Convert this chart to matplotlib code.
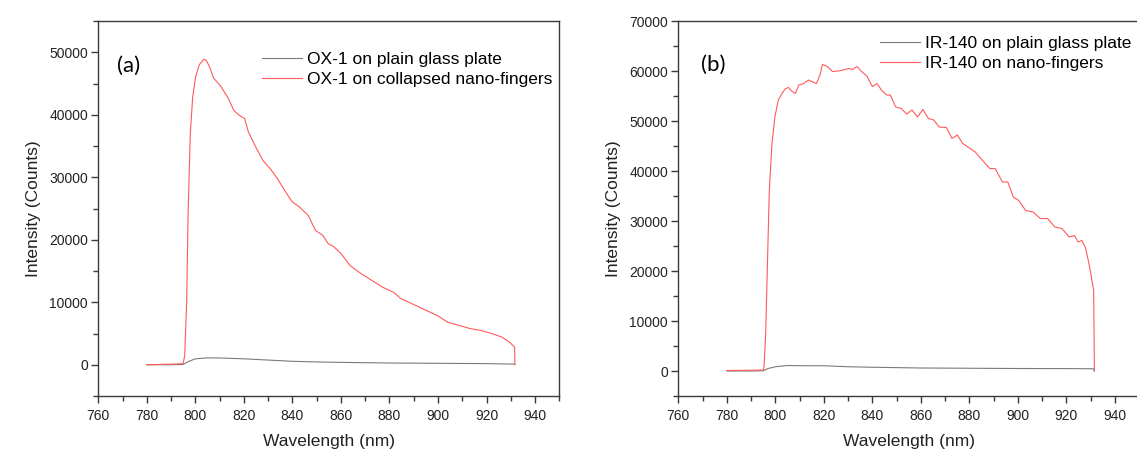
import matplotlib
matplotlib.use("Agg")
import matplotlib.pyplot as plt
from matplotlib.ticker import MultipleLocator
import numpy as np

plt.rcParams['font.family'] = ['Liberation Sans', 'DejaVu Sans']

# (a) OX-1 spectra
wl_a_red = [780, 785, 790, 794, 795, 795.6, 796.4, 797.0, 797.9, 798.9, 800.1, 801.6,
            803.5, 804.6, 806.1, 807.6, 808.6, 810.6, 813.6, 815.8, 818.1, 820.3,
            821.8, 824.8, 827.8, 830.8, 833.8, 836.8, 839.8, 842.7, 846.5, 849.5,
            852.5, 854.7, 857.0, 860.0, 863.7, 868.2, 872.7, 877.2, 881.7, 884.6,
            889.1, 895.1, 899.6, 904.1, 908.6, 913.1, 917.6, 922.1, 926.5, 929.5,
            931.6, 931.7]
int_a_red = [0, 50, 100, 150, 250, 1500, 10000, 24200, 37000, 42900, 46100, 48000,
             48900, 48650, 47400, 45800, 45400, 44500, 42600, 40700, 39900, 39400,
             37300, 34900, 32700, 31400, 29800, 27900, 26100, 25300, 23900, 21500,
             20700, 19400, 18900, 17800, 15900, 14600, 13500, 12400, 11600, 10600,
             9800, 8700, 7900, 6800, 6300, 5800, 5500, 5000, 4400, 3600,
             2800, 0]
wl_a_gray = [780, 790, 795, 797, 800, 805, 810, 820, 830, 840, 850, 860, 880, 900, 920, 931.7]
int_a_gray = [0, 0, 50, 500, 950, 1100, 1080, 950, 750, 550, 450, 380, 280, 230, 180, 100]

# (b) IR-140 spectra
wl_b_red = [780, 785, 790, 795, 795.3, 796.0, 796.8, 797.5, 798.6, 799.8, 801.2, 802.7,
            804.2, 805.4, 806.7, 808.2, 809.7, 811.7, 813.6, 815.4, 816.9, 818.4,
            819.4, 821.4, 823.6, 825.8, 828.0, 830.3, 831.8, 833.7, 835.5, 837.7,
            840.0, 841.9, 843.7, 845.9, 847.4, 849.6, 851.9, 854.1, 856.3, 858.6,
            860.8, 863.1, 865.3, 867.5, 870.5, 872.8, 875.0, 877.2, 879.4, 882.4,
            885.4, 888.4, 890.6, 893.6, 895.8, 898.1, 900.3, 903.2, 906.2, 909.2,
            912.2, 915.2, 918.1, 921.1, 923.3, 924.8, 926.3, 927.8, 929.3, 930.5,
            931.2, 931.5]
int_b_red = [100, 120, 150, 200, 700, 7400, 22800, 36100, 45500, 50800, 54200, 55500,
             56500, 56700, 56000, 55500, 57200, 57500, 58200, 57800, 57500, 59200,
             61300, 60900, 59900, 60000, 60200, 60500, 60300, 60900, 59900, 59000,
             56900, 57500, 56200, 55200, 55200, 52800, 52500, 51400, 52200, 50800,
             52300, 50500, 50200, 48800, 48700, 46500, 47200, 45500, 44800, 43800,
             42100, 40500, 40500, 37800, 37800, 34800, 34100, 32100, 31800, 30500,
             30500, 28800, 28500, 26800, 27100, 25800, 26100, 24700, 21400, 18100,
             16100, 0]
wl_b_gray = [780, 790, 795, 797, 800, 805, 812, 820, 830, 840, 860, 880, 900, 920, 931, 931.5]
int_b_gray = [0, 0, 50, 500, 850, 1100, 1050, 1050, 850, 750, 600, 550, 500, 480, 450, 0]

labels_a = ['OX-1 on plain glass plate', 'OX-1 on collapsed nano-fingers']
labels_b = ['IR-140 on plain glass plate', 'IR-140 on nano-fingers']

gray = '#7a7a7a'
red = '#ff5a5a'
spine_c = '#3a3a3a'

fig = plt.figure(figsize=(11.37, 4.5), dpi=100)
ax1 = fig.add_axes([0.0865, 0.12, 0.4054, 0.8333])
ax2 = fig.add_axes([0.5966, 0.12, 0.4054, 0.8333])


def style(ax, ymin, ymax):
    ax.set_xlim(760, 950)
    ax.set_ylim(ymin, ymax)
    ax.xaxis.set_major_locator(MultipleLocator(20))
    ax.xaxis.set_minor_locator(MultipleLocator(10))
    ax.yaxis.set_major_locator(MultipleLocator(10000))
    ax.yaxis.set_minor_locator(MultipleLocator(5000))
    for s in ax.spines.values():
        s.set_color(spine_c)
        s.set_linewidth(1.0)
    ax.tick_params(which='both', direction='out', top=False, right=False,
                   color=spine_c, labelsize=10, labelcolor='#222222')
    ax.tick_params(which='major', length=5, width=1.0)
    ax.tick_params(which='minor', length=3.5, width=1.0)
    ax.tick_params(axis='x', pad=4)
    ax.tick_params(axis='y', pad=2.5)
    ax.set_xlabel('Wavelength (nm)', fontsize=12.5, color='#222222', labelpad=8)
    ax.set_ylabel('Intensity (Counts)', fontsize=12.5, color='#222222', labelpad=6)


ax1.plot(wl_a_gray, int_a_gray, color=gray, lw=0.8, label=labels_a[0])
ax1.plot(wl_a_red, int_a_red, color=red, lw=0.8, label=labels_a[1])
style(ax1, -5000, 55000)
ax1.text(0.04, 0.88, '(a)', transform=ax1.transAxes, fontsize=16,
         family=['Lato', 'DejaVu Sans'], va='center', ha='left')
ax1.legend(loc='upper left', bbox_to_anchor=(0.355, 0.918), frameon=False,
           borderpad=0, borderaxespad=0, handlelength=2.3, handletextpad=0.3,
           labelspacing=0.3, fontsize=12.5)

ax2.plot(wl_b_gray, int_b_gray, color=gray, lw=0.8, label=labels_b[0])
ax2.plot(wl_b_red, int_b_red, color=red, lw=0.8, label=labels_b[1])
style(ax2, -5000, 70000)
ax2.text(0.0486, 0.883, '(b)', transform=ax2.transAxes, fontsize=16,
         family=['Lato', 'DejaVu Sans'], va='center', ha='left')
ax2.legend(loc='upper left', bbox_to_anchor=(0.4375, 0.961), frameon=False,
           borderpad=0, borderaxespad=0, handlelength=2.3, handletextpad=0.3,
           labelspacing=0.3, fontsize=12.5)

fig.savefig('out.png', dpi=100)
